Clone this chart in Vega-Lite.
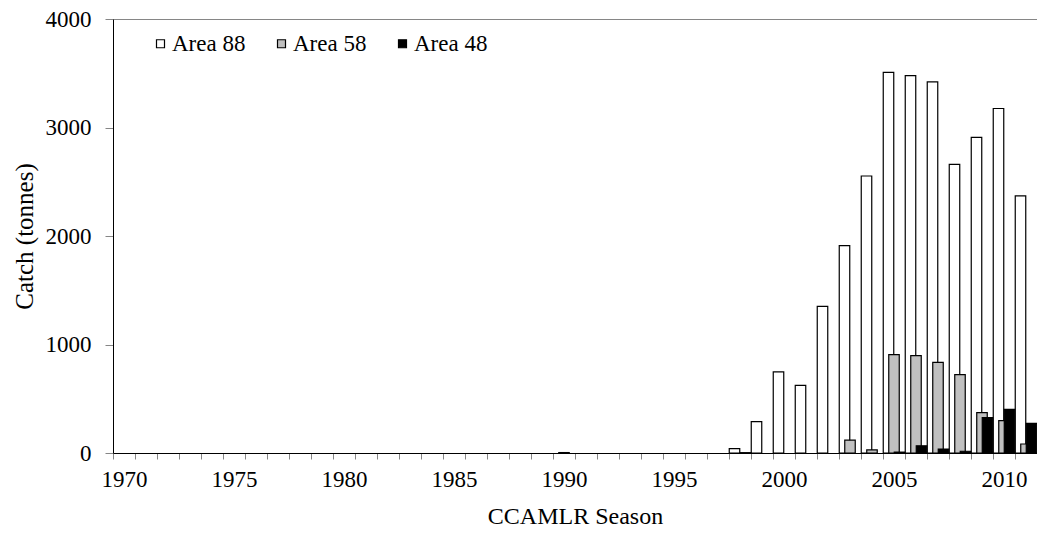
{
  "$schema": "https://vega.github.io/schema/vega-lite/v6.json",
  "width": 924,
  "height": 434,
  "padding": {"left": 113, "top": 19, "right": 0, "bottom": 85},
  "autosize": {"type": "none"},
  "background": "white",
  "config": {
    "font": "Liberation Serif",
    "view": {"stroke": "#868686", "strokeWidth": 1},
    "axis": {"domainColor": "black", "tickColor": "#868686", "labelColor": "black", "titleColor": "black", "labelFont": "Liberation Serif", "titleFont": "Liberation Serif", "titleFontWeight": "normal"},
    "legend": {"labelFont": "Liberation Serif", "labelFontSize": 23, "labelColor": "black"}
  },
  "data": {
    "values": [
      {"Season": 1998, "Area": "Area 88", "Catch": 40},
      {"Season": 1999, "Area": "Area 88", "Catch": 290},
      {"Season": 2000, "Area": "Area 88", "Catch": 747},
      {"Season": 2001, "Area": "Area 88", "Catch": 623},
      {"Season": 2002, "Area": "Area 88", "Catch": 1351},
      {"Season": 2003, "Area": "Area 88", "Catch": 1911},
      {"Season": 2004, "Area": "Area 88", "Catch": 2553},
      {"Season": 2005, "Area": "Area 88", "Catch": 3508},
      {"Season": 2006, "Area": "Area 88", "Catch": 3478},
      {"Season": 2007, "Area": "Area 88", "Catch": 3420},
      {"Season": 2008, "Area": "Area 88", "Catch": 2660},
      {"Season": 2009, "Area": "Area 88", "Catch": 2909},
      {"Season": 2010, "Area": "Area 88", "Catch": 3175},
      {"Season": 2011, "Area": "Area 88", "Catch": 2369},
      {"Season": 1990, "Area": "Area 58", "Catch": 4},
      {"Season": 2003, "Area": "Area 58", "Catch": 118},
      {"Season": 2004, "Area": "Area 58", "Catch": 28},
      {"Season": 2005, "Area": "Area 58", "Catch": 906},
      {"Season": 2006, "Area": "Area 58", "Catch": 897},
      {"Season": 2007, "Area": "Area 58", "Catch": 835},
      {"Season": 2008, "Area": "Area 58", "Catch": 722},
      {"Season": 2009, "Area": "Area 58", "Catch": 372},
      {"Season": 2010, "Area": "Area 58", "Catch": 298},
      {"Season": 2011, "Area": "Area 58", "Catch": 83},
      {"Season": 1998, "Area": "Area 48", "Catch": 3},
      {"Season": 2005, "Area": "Area 48", "Catch": 8},
      {"Season": 2006, "Area": "Area 48", "Catch": 67},
      {"Season": 2007, "Area": "Area 48", "Catch": 37},
      {"Season": 2008, "Area": "Area 48", "Catch": 16},
      {"Season": 2009, "Area": "Area 48", "Catch": 326},
      {"Season": 2010, "Area": "Area 48", "Catch": 402},
      {"Season": 2011, "Area": "Area 48", "Catch": 273}
    ]
  },
  "encoding": {
    "x": {
      "field": "Season",
      "type": "ordinal",
      "scale": {
        "domain": [1970,1971,1972,1973,1974,1975,1976,1977,1978,1979,1980,1981,1982,1983,1984,1985,1986,1987,1988,1989,1990,1991,1992,1993,1994,1995,1996,1997,1998,1999,2000,2001,2002,2003,2004,2005,2006,2007,2008,2009,2010,2011],
        "paddingInner": 0,
        "paddingOuter": 0
      },
      "axis": {
        "title": "CCAMLR Season",
        "titleFontSize": 24,
        "titlePadding": 13,
        "labelFontSize": 23,
        "labelAngle": 0,
        "labelPadding": 9,
        "tickBand": "extent",
        "tickSize": 6,
        "labelExpr": "datum.value % 5 == 0 ? datum.label : ''"
      }
    },
    "y": {
      "field": "Catch",
      "type": "quantitative",
      "scale": {"domain": [0, 4000], "nice": false},
      "axis": {
        "title": "Catch (tonnes)",
        "titleFontSize": 25,
        "titlePadding": 8,
        "labelFontSize": 23,
        "labelPadding": 14,
        "tickSize": 8,
        "values": [0, 1000, 2000, 3000, 4000],
        "format": "d",
        "grid": false
      }
    },
    "fill": {
      "field": "Area",
      "type": "nominal",
      "scale": {"domain": ["Area 88", "Area 58", "Area 48"], "range": ["white", "#c0c0c0", "black"]},
      "legend": {
        "title": null,
        "orient": "none",
        "legendX": 36,
        "legendY": 13,
        "direction": "horizontal",
        "symbolType": "square",
        "symbolSize": 64,
        "symbolStrokeColor": "black",
        "symbolStrokeWidth": 1.2,
        "labelFontSize": 23,
        "labelFont": "Liberation Serif",
        "labelColor": "black",
        "labelOffset": 0,
        "columnPadding": 24
      }
    }
  },
  "layer": [
    {
      "transform": [{"filter": "datum.Area == 'Area 88'"}],
      "mark": {"type": "bar", "width": 10.5, "xOffset": -5.5, "stroke": "black", "strokeWidth": 1.2}
    },
    {
      "transform": [{"filter": "datum.Area == 'Area 58'"}],
      "mark": {"type": "bar", "width": 10.5, "xOffset": 0, "stroke": "black", "strokeWidth": 1.2}
    },
    {
      "transform": [{"filter": "datum.Area == 'Area 48'"}],
      "mark": {"type": "bar", "width": 10.5, "xOffset": 5.5, "stroke": "black", "strokeWidth": 1.2}
    }
  ]
}
